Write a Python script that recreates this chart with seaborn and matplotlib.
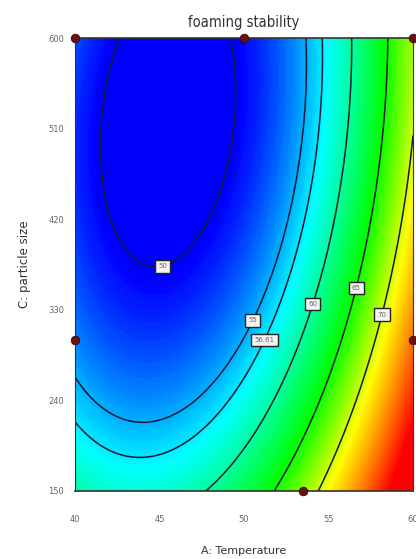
import numpy as np
import pandas as pd
import matplotlib
matplotlib.use("Agg")
import matplotlib.pyplot as plt
import seaborn as sns
from matplotlib.colors import LinearSegmentedColormap

sns.set_style("white")
plt.rcParams['font.family'] = ['DejaVu Sans']

# fitted quadratic model (coded units: x = (A-50)/10, y = (C-375)/225)
B0 = 52.70
B_A, B_C, B_AC = 10.58, -5.897, -2.281
B_AA, B_CC = 10.147, 3.792

# contour levels shown on the plot
LEVELS = [50, 55, 56.61, 60, 65, 70]
LABEL_POS = [(45.0, 386), (50.2, 322), (51.1, 301), (53.85, 337), (56.4, 353), (58.0, 326)]

# design points
PT_TEMP = [40, 50, 60, 40, 60, 53.5]
PT_SIZE = [600, 600, 600, 300, 300, 150]

X_TICKS = [40, 45, 50, 55, 60]
Y_TICKS = [150, 240, 330, 420, 510, 600]


def response(a, c):
    x = (a - 50) / 10
    y = (c - 375) / 225
    return B0 + B_A * x + B_C * y + B_AC * x * y + B_AA * x ** 2 + B_CC * y ** 2


cmap = LinearSegmentedColormap.from_list(
    'dx', [(0, '#0000ff'), (0.05, '#0000ff'), (0.235, '#00ffff'), (0.44, '#00ff00'),
           (0.62, '#ffff00'), (0.88, '#ff0000'), (1, '#ff0000')])

A, C = np.meshgrid(np.linspace(40, 60, 300), np.linspace(150, 600, 300))
Z = response(A, C)

fig = plt.figure(figsize=(4.16, 5.59), dpi=100)
ax = fig.add_axes([75 / 416, 68 / 559, 338 / 416, 453 / 559])

ax.contourf(A, C, Z, levels=np.linspace(Z.min(), Z.max(), 200), cmap=cmap)
cs = ax.contour(A, C, Z, levels=LEVELS, colors='#151a30', linewidths=1.1)
labels = ax.clabel(cs, inline=False, fontsize=5, manual=LABEL_POS,
                   fmt=lambda v: f"{v:.4g}")
for t in labels:
    t.set_rotation(0)
    t.set_color('#666666')
    t.set_bbox(dict(boxstyle='square,pad=0.45', fc='#f4f4f4', ec='#222222', lw=1))

pts = pd.DataFrame({'A': PT_TEMP, 'C': PT_SIZE})
sns.scatterplot(data=pts, x='A', y='C', ax=ax, color='#6a1010', s=38,
                edgecolor='#3a0808', linewidth=0.6, clip_on=False, zorder=10)

ax.set_xlim(40, 60)
ax.set_ylim(150, 600)
ax.set_xticks(X_TICKS)
ax.set_yticks(Y_TICKS)
ax.tick_params(axis='both', direction='out', length=5, width=1, color='#555555',
               labelsize=6, labelcolor='#666666', pad=4)
ax.tick_params(axis='x', length=6, width=1.3, pad=11)
ax.tick_params(axis='y', length=4)
for side, sp in ax.spines.items():
    sp.set_color('#333333')
    sp.set_linewidth(1.2 if side in ('top', 'bottom') else 0.8)

ax.set_title('foaming stability', fontsize=10.5, color='#333333', pad=8,
             fontstretch='condensed')
ax.set_xlabel('A: Temperature', fontsize=8, color='#333333', labelpad=16)
ax.set_ylabel('C: particle size', fontsize=8.5, color='#333333', labelpad=12)

fig.savefig('out.png', dpi=100)
